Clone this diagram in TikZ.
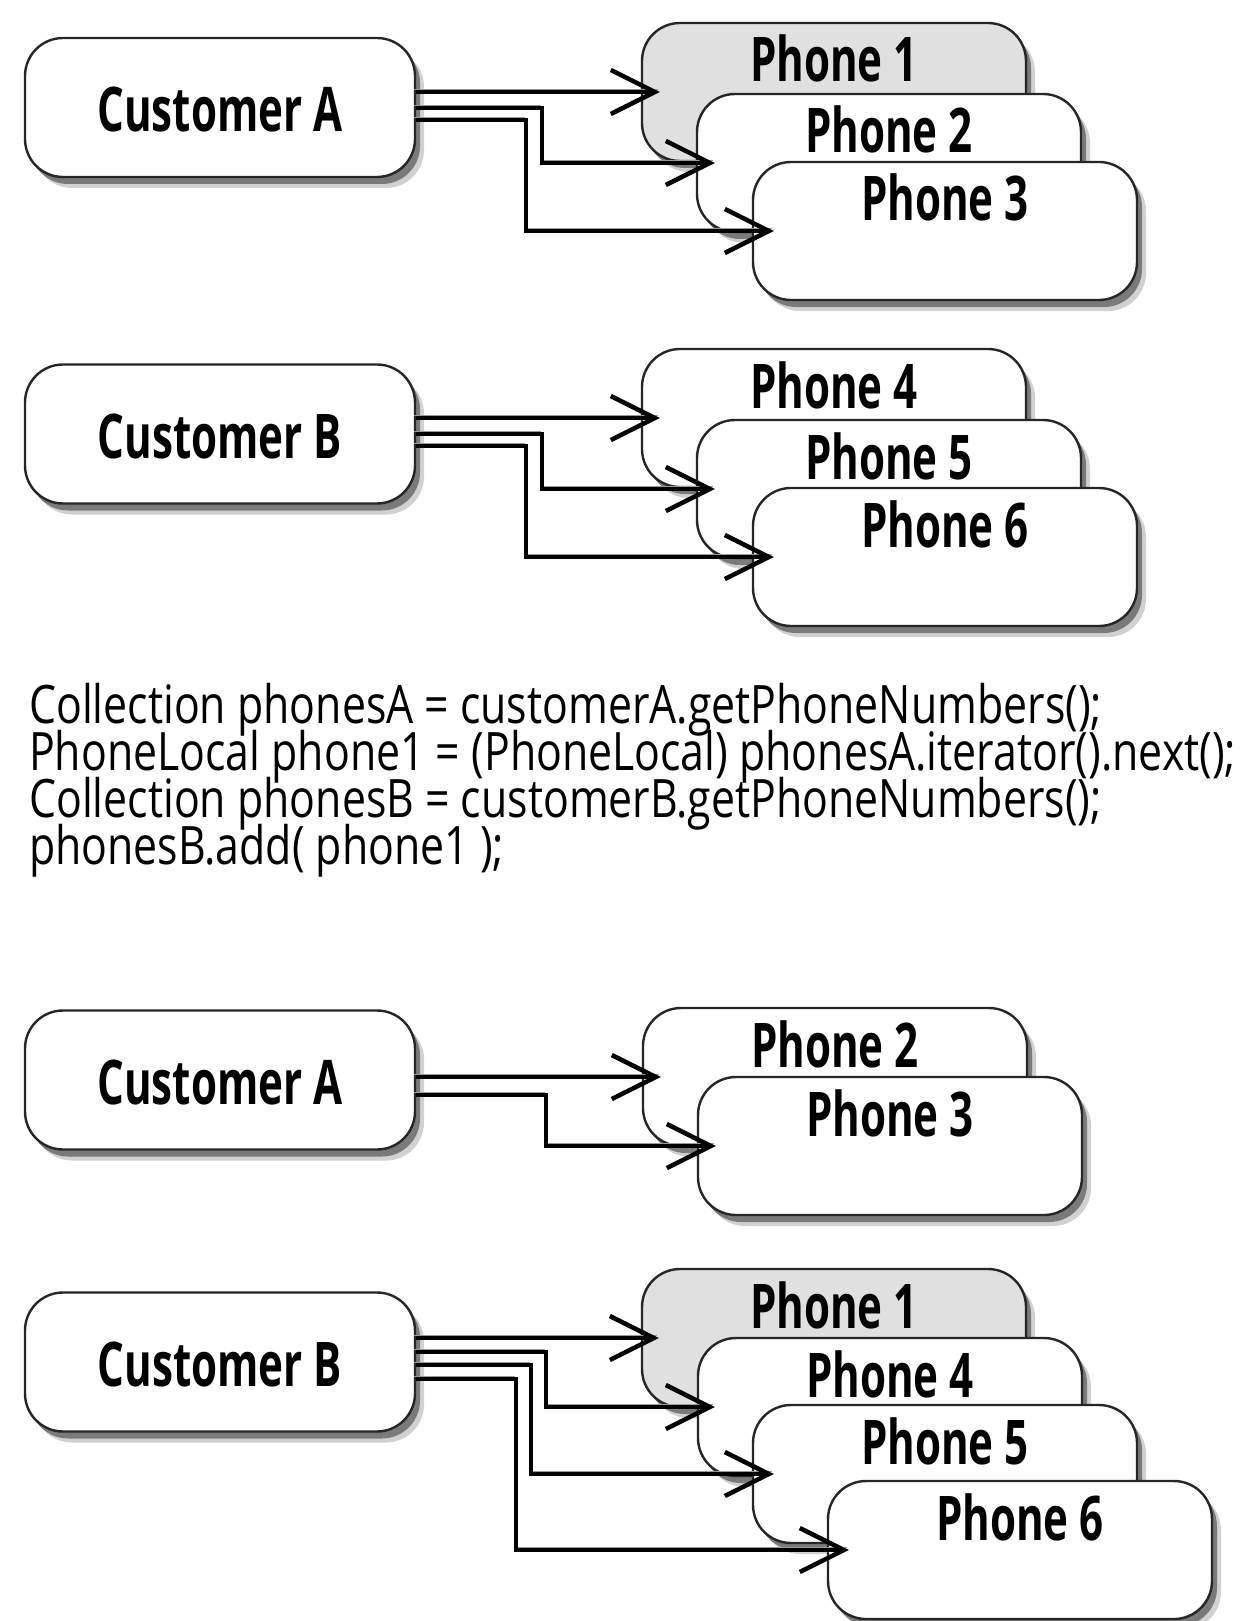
\documentclass[tikz,border=0pt]{standalone}
\usepackage{fontspec}
\usepackage{graphicx}
\usetikzlibrary{arrows.meta,shadows,calc}
\newfontfamily\titlefont{Open Sans}
\newfontfamily\codefont{Open Sans}
\newsavebox\measbox
\newcommand\ttlfont{\titlefont\bfseries\fontsize{61.6}{70}\selectfont}
\newcommand\cdfont{\codefont\fontsize{53}{47}\selectfont}
\tikzset{
  box/.style={draw=black!85, line width=2.4pt, rounded corners=38pt, inner sep=0pt,
    drop shadow={shadow xshift=9pt, shadow yshift=-11pt, fill=black!18, opacity=1},
    drop shadow={shadow xshift=5pt, shadow yshift=-7pt, fill=black!52, opacity=1}},
  custbox/.style={box, fill=white, minimum width=390pt, minimum height=139pt,
    text height=94pt, text depth=45pt, font=\ttlfont},
  phonebox/.style={box, fill=white, minimum width=384pt, minimum height=138pt,
    text height=59pt, text depth=79pt, font=\ttlfont},
  selbox/.style={phonebox, fill=black!12},
  conn/.style={line width=4.5pt, -{Straight Barb[length=44pt,width=44pt]},
    preaction={draw=black!40, -, transform canvas={shift={(-2,3)}}}},
  codeblock/.style={anchor=base west, inner sep=0pt, font=\cdfont},
}
\newcommand\T[1]{\scalebox{\ttlscale}[1]{#1}}
\newcommand\C[1]{\scalebox{\cdscale}[1]{#1}}
\begin{document}
\sbox\measbox{\ttlfont Customer A}%
\pgfmathsetmacro\ttlscale{245/\the\wd\measbox}%
\sbox\measbox{\cdfont PhoneLocal phone1 = (PhoneLocal) phonesA.iterator().next();}%
\pgfmathsetmacro\cdscale{1207/\the\wd\measbox}%
\begin{tikzpicture}[x=1pt,y=1pt]
\useasboundingbox (0,0) rectangle (1245,-1621);

% ---------- section 1 ----------
\node[custbox] (cA1) at (220,-107.5) {\T{Customer A}};
\node[selbox] (p11) at (834,-92) {\T{Phone 1}};
\node[phonebox] (p12) at (889,-163) {\T{Phone 2}};
\node[phonebox] (p13) at (945,-231) {\T{Phone 3}};
\draw[conn] (cA1.east |- p11.west) -- ([xshift=19pt]p11.west);
\draw[conn] ($(cA1.east |- p11.west)+(0,-16)$) -- ++(126,0) |- ([xshift=19pt]p12.west);
\draw[conn] ($(cA1.east |- p11.west)+(0,-28)$) -- ++(110,0) |- ([xshift=22pt]p13.west);

% ---------- section 2 ----------
\node[custbox] (cB1) at (220,-434) {\T{Customer B}};
\node[phonebox] (p24) at (834,-418) {\T{Phone 4}};
\node[phonebox] (p25) at (889,-489) {\T{Phone 5}};
\node[phonebox] (p26) at (945,-557) {\T{Phone 6}};
\draw[conn] (cB1.east |- p24.west) -- ([xshift=19pt]p24.west);
\draw[conn] ($(cB1.east |- p24.west)+(0,-16)$) -- ++(126,0) |- ([xshift=19pt]p25.west);
\draw[conn] ($(cB1.east |- p24.west)+(0,-28)$) -- ++(110,0) |- ([xshift=22pt]p26.west);

% ---------- code ----------
\node[codeblock] (code) at (29,-723) {\parbox[t]{1216pt}{\lineskiplimit=-100pt\baselineskip=47pt
  \C{Collection phonesA = customerA.getPhoneNumbers();}\\
  \C{PhoneLocal phone1 = (PhoneLocal) phonesA.iterator().next();}\\
  \C{Collection phonesB = customerB.getPhoneNumbers();}\\
  \C{phonesB.add( phone1 );}}};

% ---------- section 3 ----------
\node[custbox] (cA2) at (220,-1080) {\T{Customer A}};
\node[phonebox] (p32) at (835,-1077) {\T{Phone 2}};
\node[phonebox] (p33) at (890,-1146) {\T{Phone 3}};
\draw[conn] (cA2.east |- p32.west) -- ([xshift=19pt]p32.west);
\draw[conn] ($(cA2.east |- p32.west)+(0,-18)$) -- ++(130,0) |- ([xshift=19pt]p33.west);

% ---------- section 4 ----------
\node[custbox] (cB2) at (220,-1362) {\T{Customer B}};
\node[selbox] (p41) at (834,-1338) {\T{Phone 1}};
\node[phonebox] (p44) at (890,-1407) {\T{Phone 4}};
\node[phonebox] (p45) at (945,-1474) {\T{Phone 5}};
\node[phonebox] (p46) at (1020,-1550) {\T{Phone 6}};
\draw[conn] (cB2.east |- p41.west) -- ([xshift=18pt]p41.west);
\draw[conn] ($(cB2.east |- p41.west)+(0,-14)$) -- ++(130,0) |- ([xshift=18pt]p44.west);
\draw[conn] ($(cB2.east |- p41.west)+(0,-27)$) -- ++(115,0) |- ([xshift=22pt]p45.west);
\draw[conn] ($(cB2.east |- p41.west)+(0,-41)$) -- ++(100,0) |- ([xshift=22pt]p46.west);
\end{tikzpicture}
\end{document}
